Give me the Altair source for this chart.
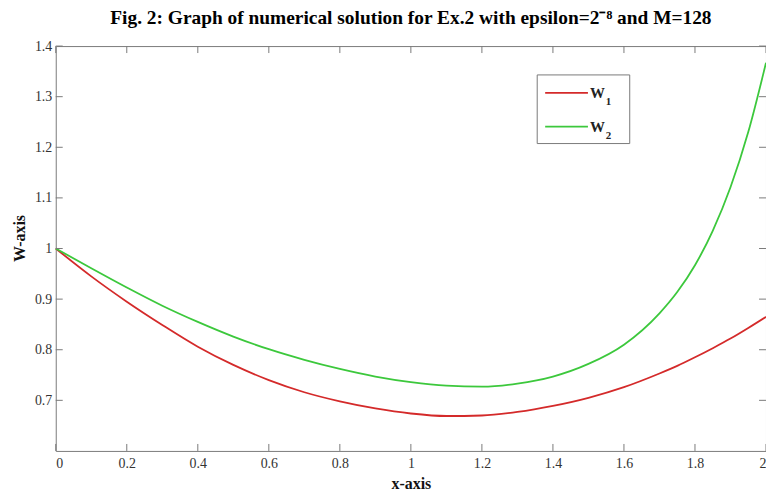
import altair as alt
import pandas as pd

# ---- data ----
x_vals = [0.0, 0.1, 0.2, 0.3, 0.4, 0.5, 0.6, 0.7, 0.8, 0.9, 1.0, 1.1, 1.2,
          1.3, 1.4, 1.5, 1.6, 1.7, 1.75, 1.8, 1.85, 1.9, 1.95, 2.0]
w1_vals = [1.0, 0.945, 0.895, 0.849, 0.806, 0.770, 0.740, 0.716, 0.698, 0.684,
           0.674, 0.669, 0.670, 0.677, 0.689, 0.705, 0.726, 0.753, 0.768, 0.785,
           0.803, 0.822, 0.843, 0.865]
w2_vals = [1.0, 0.961, 0.923, 0.887, 0.855, 0.826, 0.801, 0.780, 0.762, 0.747,
           0.736, 0.729, 0.727, 0.733, 0.747, 0.772, 0.810, 0.872, 0.914, 0.967,
           1.035, 1.121, 1.230, 1.367]
series_names = ["W1", "W2"]
series_colors = ["#d42a2a", "#3cc83c"]
x_ticks = [0, 0.2, 0.4, 0.6, 0.8, 1, 1.2, 1.4, 1.6, 1.8, 2]
y_ticks = [0.7, 0.8, 0.9, 1, 1.1, 1.2, 1.3, 1.4]
title_text = "Fig. 2: Graph of numerical solution for Ex.2 with epsilon=2\u207b\u2078 and M=128"
x_title = "x-axis"
y_title = "W-axis"

W, H = 714, 407
GRAY = "#7a7a7a"
SERIF = "Liberation Serif"

n = len(x_vals)
df = pd.DataFrame({
    "x": x_vals * 2,
    "w": w1_vals + w2_vals,
    "series": [series_names[0]] * n + [series_names[1]] * n,
})

xs = alt.Scale(domain=[0, 2], nice=False, zero=False)
ys = alt.Scale(domain=[0.6, 1.4], nice=False, zero=False)
x_axis = alt.Axis(values=x_ticks, format="~g", title=x_title,
                  labelPadding=6, titleX=W / 2, titleY=33,
                  titleBaseline="middle")
y_axis = alt.Axis(values=y_ticks, format="~g", title=y_title,
                  labelPadding=4, titleX=-36, titleY=193,
                  titleBaseline="middle", titleAngle=-90)

lines = alt.Chart(df).mark_line(strokeWidth=1.8, interpolate="monotone").encode(
    x=alt.X("x:Q", scale=xs, axis=x_axis),
    y=alt.Y("w:Q", scale=ys, axis=y_axis),
    color=alt.Color("series:N",
                    scale=alt.Scale(domain=series_names, range=series_colors),
                    legend=None),
)

xt = pd.DataFrame({"x": x_ticks})
yt = pd.DataFrame({"w": y_ticks})
bottom_ticks = alt.Chart(xt).mark_rule(color=GRAY).encode(
    x=alt.X("x:Q", scale=xs, axis=x_axis), y=alt.value(H), y2=alt.value(H - 7))
top_ticks = alt.Chart(xt).mark_rule(color=GRAY).encode(
    x=alt.X("x:Q", scale=xs, axis=x_axis), y=alt.value(0), y2=alt.value(7))
left_ticks = alt.Chart(yt).mark_rule(color=GRAY).encode(
    y=alt.Y("w:Q", scale=ys, axis=y_axis), x=alt.value(0), x2=alt.value(7))
right_ticks = alt.Chart(yt).mark_rule(color=GRAY).encode(
    y=alt.Y("w:Q", scale=ys, axis=y_axis), x=alt.value(W - 7), x2=alt.value(W))

# ---- legend box (MATLAB style) ----
one = alt.Data(values=[{"k": 1}])
legend_layers = [
    alt.Chart(one).mark_rect(fill="white", stroke=GRAY, strokeWidth=1).encode(
        x=alt.value(484), x2=alt.value(577), y=alt.value(29), y2=alt.value(98))
]
row_y = [47, 81]
for name, col, ry in zip(series_names, series_colors, row_y):
    legend_layers.append(
        alt.Chart(one).mark_rule(color=col, strokeWidth=1.8).encode(
            x=alt.value(492), x2=alt.value(535), y=alt.value(ry)))
    legend_layers.append(
        alt.Chart(one).mark_text(text=name[0], font=SERIF, fontSize=15,
                                 fontWeight="bold", align="left",
                                 baseline="middle", color="#222").encode(
            x=alt.value(537), y=alt.value(ry)))
    legend_layers.append(
        alt.Chart(one).mark_text(text=name[1:], font=SERIF, fontSize=11,
                                 fontWeight="bold", align="left",
                                 baseline="middle", color="#222").encode(
            x=alt.value(553), y=alt.value(ry + 9)))

chart = alt.layer(
    lines, bottom_ticks, top_ticks, left_ticks, right_ticks, *legend_layers
).properties(
    width=W, height=H,
    title=alt.TitleParams(text=title_text, font=SERIF, fontSize=19.5,
                          fontWeight="bold", anchor="middle", offset=11,
                          color="black"),
    padding={"left": 48, "top": 37, "right": 0, "bottom": 40},
    autosize=alt.AutoSizeParams(type="none"),
    background="white",
).configure_view(
    stroke=GRAY, strokeWidth=1
).configure_axis(
    grid=False, domain=False, ticks=False,
    labelFont=SERIF, labelFontSize=14, labelColor="#333",
    titleFont=SERIF, titleFontSize=16, titleFontWeight="bold", titleColor="#111",
)

chart.save("out.html", embed_options={"renderer": "svg", "actions": False})
